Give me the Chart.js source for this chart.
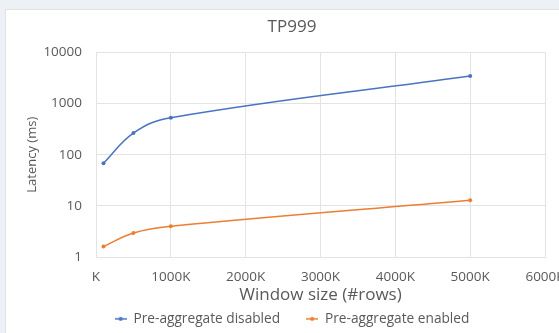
<!DOCTYPE html>
<html>
<head>
<meta charset="utf-8">
<script src="https://cdn.jsdelivr.net/npm/chart.js@4"></script>
<style>
    html, body {
        margin: 0;
        padding: 0;
        width: 559px;
        height: 333px;
        overflow: hidden;
        background: #edf1f5;
    }
    .chart-card {
        position: absolute;
        left: 5px;
        top: 9px;
        width: 570px;
        height: 324px;
        background: #ffffff;
        border-top: 1px solid #dfe3e8;
        border-left: 1px solid #dfe3e8;
        box-sizing: border-box;
    }
    canvas {
        position: absolute;
        left: -1px;
        top: -1px;
    }
</style>
</head>
<body>
<div class="chart-card">
    <canvas id="latencyChart" width="574" height="324"></canvas>
</div>
<script>
// Window sizes in K rows
const windowSizes = [100, 500, 1000, 5000];
// TP999 latency (ms)
const disabledLatency = [68, 265, 530, 3450];
const enabledLatency = [1.6, 2.95, 4.0, 12.9];
const seriesNames = ['Pre-aggregate disabled', 'Pre-aggregate enabled'];
const seriesColors = ['#4a73c2', '#ED7D31'];
const yTickValues = [1, 10, 100, 1000, 10000];
const xTickValues = [0, 1000, 2000, 3000, 4000, 5000, 6000];

const textColor = '#595959';
const gridColor = '#e3e3e3';
const fontFamily = "'Open Sans', 'Liberation Sans', sans-serif";

// Excel style legend mark: short line with a dot
function makeLegendMark(color) {
    const c = document.createElement('canvas');
    c.width = 12;
    c.height = 6;
    const ctx = c.getContext('2d');
    ctx.strokeStyle = color;
    ctx.lineWidth = 1.5;
    ctx.beginPath();
    ctx.moveTo(0, 3);
    ctx.lineTo(12, 3);
    ctx.stroke();
    ctx.fillStyle = color;
    ctx.beginPath();
    ctx.arc(6, 3, 2, 0, Math.PI * 2);
    ctx.fill();
    return c;
}
const legendMarks = seriesColors.map(makeLegendMark);

function toPoints(values) {
    return windowSizes.map((x, i) => ({ x: x, y: values[i] }));
}

function makeDataset(label, values, color) {
    return {
        label: label,
        data: toPoints(values),
        borderColor: color,
        backgroundColor: color,
        borderWidth: 1.5,
        pointRadius: 2,
        pointHoverRadius: 2,
        pointBorderWidth: 0,
        tension: 0.4,
        fill: false
    };
}

// Title and legend are centred on the whole card, not on the plot
const centerBlocks = {
    id: 'centerBlocks',
    afterLayout(chart) {
        [chart.titleBlock, chart.legend].forEach(box => {
            if (box) {
                box.left = 0;
                box.right = chart.width;
            }
        });
    }
};

const ctx = document.getElementById('latencyChart').getContext('2d');
const chart = new Chart(ctx, {
    type: 'line',
    data: {
        datasets: [
            makeDataset(seriesNames[0], disabledLatency, seriesColors[0]),
            makeDataset(seriesNames[1], enabledLatency, seriesColors[1])
        ]
    },
    plugins: [centerBlocks],
    options: {
        responsive: false,
        animation: false,
        devicePixelRatio: 1,
        layout: {
            padding: { left: 0, right: 34, top: 0, bottom: 0 }
        },
        plugins: {
            title: {
                display: true,
                text: 'TP999',
                color: textColor,
                font: { family: fontFamily, size: 17, weight: 'normal' },
                padding: { top: 8, bottom: 15 }
            },
            legend: {
                position: 'bottom',
                maxHeight: 47,
                labels: {
                    color: textColor,
                    font: { family: fontFamily, size: 13.7 },
                    usePointStyle: true,
                    pointStyleWidth: 12,
                    padding: 26,
                    generateLabels: (chart) => {
                        const items = Chart.defaults.plugins.legend.labels.generateLabels(chart);
                        items.forEach((item, i) => { item.pointStyle = legendMarks[i]; });
                        return items;
                    }
                }
            },
            tooltip: { enabled: false }
        },
        scales: {
            x: {
                type: 'linear',
                min: 0,
                max: 6000,
                afterBuildTicks: (scale) => {
                    scale.ticks = xTickValues.map(v => ({ value: v }));
                },
                afterFit: (scale) => {
                    scale.height = 29;
                    scale.paddingLeft = 0;
                    scale.paddingRight = 0;
                },
                grid: { color: gridColor, drawTicks: false },
                border: { color: gridColor },
                ticks: {
                    color: textColor,
                    font: { family: fontFamily, size: 13.5 },
                    padding: 12,
                    maxRotation: 0,
                    callback: value => value === 0 ? 'K' : value + 'K'
                },
                title: {
                    display: true,
                    text: 'Window size (#rows)',
                    color: textColor,
                    font: { family: fontFamily, size: 17 },
                    padding: { top: 0, bottom: -19 }
                }
            },
            y: {
                type: 'logarithmic',
                min: 1,
                max: 10000,
                afterBuildTicks: (scale) => {
                    scale.ticks = yTickValues.map(v => ({ value: v, major: true }));
                },
                afterFit: (scale) => {
                    scale.width = 91;
                    scale.paddingTop = 0;
                    scale.paddingBottom = 0;
                },
                grid: { color: gridColor, drawTicks: false },
                border: { color: gridColor },
                ticks: {
                    color: textColor,
                    font: { family: fontFamily, size: 13.5 },
                    padding: 14,
                    callback: value => String(value)
                },
                title: {
                    display: true,
                    text: 'Latency (ms)',
                    color: textColor,
                    font: { family: fontFamily, size: 13 },
                    padding: { top: 19, bottom: 0 }
                }
            }
        }
    }
});
</script>
</body>
</html>
